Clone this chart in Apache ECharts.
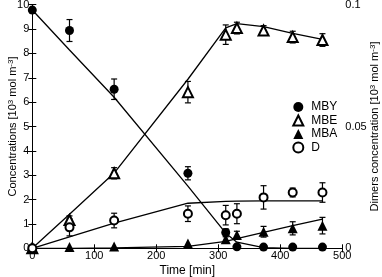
<!DOCTYPE html>
<html><head><meta charset="utf-8">
<script src="https://cdn.jsdelivr.net/npm/echarts@6/dist/echarts.min.js"></script>
<style>html,body{margin:0;padding:0;background:#fff}#c{width:382px;height:277px}</style>
</head><body><div id="c"></div>
<script>
var times = [0, 60, 132, 251, 312, 330, 373, 420, 468];
var mby = [9.78, 8.94, 6.53, 3.08, 0.65, 0.06, 0.05, 0.05, 0.05];
var mbyErr = [0, 0.45, 0.42, 0.27, 0.15, 0, 0, 0, 0];
var mbe = [0, 1.16, 3.08, 6.41, 8.77, 9.04, 8.94, 8.67, 8.55];
var mbeErr = [0, 0.17, 0.23, 0.44, 0.4, 0.24, 0.2, 0.24, 0.26];
var mba = [0, 0.05, 0.07, 0.2, 0.37, 0.55, 0.68, 0.82, 0.93];
var mbaErr = [0, 0, 0, 0, 0.1, 0.15, 0.22, 0.27, 0.34];
var dim = [0, 0.0086, 0.0114, 0.0142, 0.0136, 0.0142, 0.0209, 0.0229, 0.0229];
var dimErr = [0, 0.0035, 0.003, 0.0032, 0.004, 0.0041, 0.0048, 0.0018, 0.004];
var mbyModel = [9.78, 8.14, 6.2, 2.55, 0.62, 0.25, 0.03, 0, 0];
var mbeModel = [0, 1.4, 3.09, 6.94, 9.05, 9.22, 9.1, 8.82, 8.58];
var mbaModel = [0, 0, 0.02, 0.08, 0.28, 0.4, 0.65, 0.93, 1.2];
var dimModel = [0, 0.0047, 0.0103, 0.0185, 0.0193, 0.0194, 0.0195, 0.0195, 0.0195];
var xTicks = [0, 100, 200, 300, 400, 500];
var leftLabel = 'Concentrations [10{sup|3} mol m{sup|-3}]';
var rightLabel = 'Dimers concentration [10{sup|3} mol m{sup|-3}]';
var xLabel = 'Time [min]';

var FONT = 'Liberation Sans, Arial, sans-serif';
function pairs(ys){ return times.map(function(t,i){ return [t, ys[i]]; }); }
function errData(ys, es){
  var out = [];
  times.forEach(function(t,i){ if (es[i] > 0) out.push([t, ys[i]-es[i], ys[i]+es[i]]); });
  return out;
}
function errRender(params, api){
  var x = api.value(0), lo = api.value(1), hi = api.value(2);
  var pLo = api.coord([x, lo]), pHi = api.coord([x, hi]);
  var w = 3;
  var st = {stroke: '#000', lineWidth: 1.2};
  return {type: 'group', children: [
    {type: 'line', shape: {x1: pLo[0], y1: pLo[1], x2: pHi[0], y2: pHi[1]}, style: st},
    {type: 'line', shape: {x1: pLo[0]-w, y1: pLo[1], x2: pLo[0]+w, y2: pLo[1]}, style: st},
    {type: 'line', shape: {x1: pHi[0]-w, y1: pHi[1], x2: pHi[0]+w, y2: pHi[1]}, style: st}
  ]};
}
function lineS(ys, yi){
  return {type: 'line', data: pairs(ys), yAxisIndex: yi, showSymbol: false, silent: true,
    lineStyle: {color: '#000', width: 1.3}, z: 2};
}
function errS(ys, es, yi){
  return {type: 'custom', data: errData(ys, es), yAxisIndex: yi, renderItem: errRender,
    encode: {x: 0, y: [1, 2]}, z: 3, silent: true};
}
function markS(name, ys, yi, sym, size){
  var empty = sym.indexOf('empty') === 0;
  return {type: 'scatter', name: name, data: pairs(ys), yAxisIndex: yi, symbol: sym, symbolSize: size,
    itemStyle: {color: '#000', borderColor: '#000', borderWidth: empty ? 1.4 : 0, opacity: 1},
    z: 5};
}
var sup = {fontSize: 8, verticalAlign: 'top', lineHeight: 14, fontFamily: FONT, color: '#000'};
var chart = echarts.init(document.getElementById('c'), null, {renderer: 'canvas'});
chart.setOption({
  animation: false,
  backgroundColor: '#fff',
  textStyle: {fontFamily: FONT, color: '#000'},
  grid: {left: 32.3, right: 39.7, top: 4.7, bottom: 28.7, containLabel: false, outerBoundsMode: 'none'},
  legend: {
    orient: 'vertical', left: 287.3, top: 96, itemWidth: 10, itemHeight: 10, itemGap: 1.5,
    data: ['MBY', 'MBE', 'MBA', 'D'],
    textStyle: {fontSize: 12, fontFamily: FONT, color: '#000', padding: [0, 0, 0, 3]},
    selectedMode: false
  },
  xAxis: [{
    type: 'value', min: 0, max: 500, interval: 100, position: 'bottom',
    name: xLabel, nameLocation: 'middle', nameGap: 16, nameMoveOverlap: false,
    nameTextStyle: {fontSize: 12, fontFamily: FONT, color: '#000'},
    axisLine: {lineStyle: {color: '#000', width: 1}},
    axisTick: {inside: true, length: 4, lineStyle: {color: '#000'}},
    axisLabel: {fontSize: 11, fontFamily: FONT, color: '#000', margin: 2,
      formatter: function(v){ return xTicks.indexOf(v) >= 0 ? String(v) : ''; }},
    splitLine: {show: false}
  }, {
    type: 'value', min: 0, max: 500, interval: 100, position: 'top',
    axisLine: {lineStyle: {color: '#000', width: 1}},
    axisTick: {inside: true, length: 4, lineStyle: {color: '#000'}},
    axisLabel: {show: false}, splitLine: {show: false}
  }],
  yAxis: [{
    type: 'value', min: 0, max: 10, interval: 1, position: 'left',
    name: leftLabel, nameLocation: 'middle', nameGap: 12, nameRotate: 90, nameMoveOverlap: false,
    nameTextStyle: {fontSize: 11, fontFamily: FONT, color: '#000', lineHeight: 14, rich: {sup: sup}},
    axisLine: {show: true, lineStyle: {color: '#000', width: 1}},
    axisTick: {show: true, inside: true, length: 4, lineStyle: {color: '#000'}},
    axisLabel: {fontSize: 11, fontFamily: FONT, color: '#000', margin: 3},
    splitLine: {show: false}
  }, {
    type: 'value', min: 0, max: 0.1, interval: 0.01, position: 'right',
    name: rightLabel, nameLocation: 'middle', nameGap: 26, nameRotate: 90, nameMoveOverlap: false,
    nameTextStyle: {fontSize: 11, fontFamily: FONT, color: '#000', lineHeight: 14, rich: {sup: sup}},
    axisLine: {show: true, lineStyle: {color: '#000', width: 1}},
    axisTick: {show: true, inside: true, length: 4, lineStyle: {color: '#000'}},
    axisLabel: {fontSize: 11, fontFamily: FONT, color: '#000', margin: 3,
      formatter: function(v){
        if (Math.abs(v) < 1e-9) return '0';
        if (Math.abs(v - 0.05) < 1e-9) return '0.05';
        if (Math.abs(v - 0.1) < 1e-9) return '0.1';
        return '';
      }},
    splitLine: {show: false}
  }],
  series: [
    lineS(mbyModel, 0), lineS(mbeModel, 0), lineS(mbaModel, 0), lineS(dimModel, 1),
    errS(mby, mbyErr, 0), errS(mbe, mbeErr, 0), errS(mba, mbaErr, 0), errS(dim, dimErr, 1),
    markS('MBY', mby, 0, 'circle', 9),
    markS('MBE', mbe, 0, 'emptyTriangle', 10),
    markS('MBA', mba, 0, 'triangle', 10),
    markS('D', dim, 1, 'emptyCircle', 8)
  ]
});
</script></body></html>
